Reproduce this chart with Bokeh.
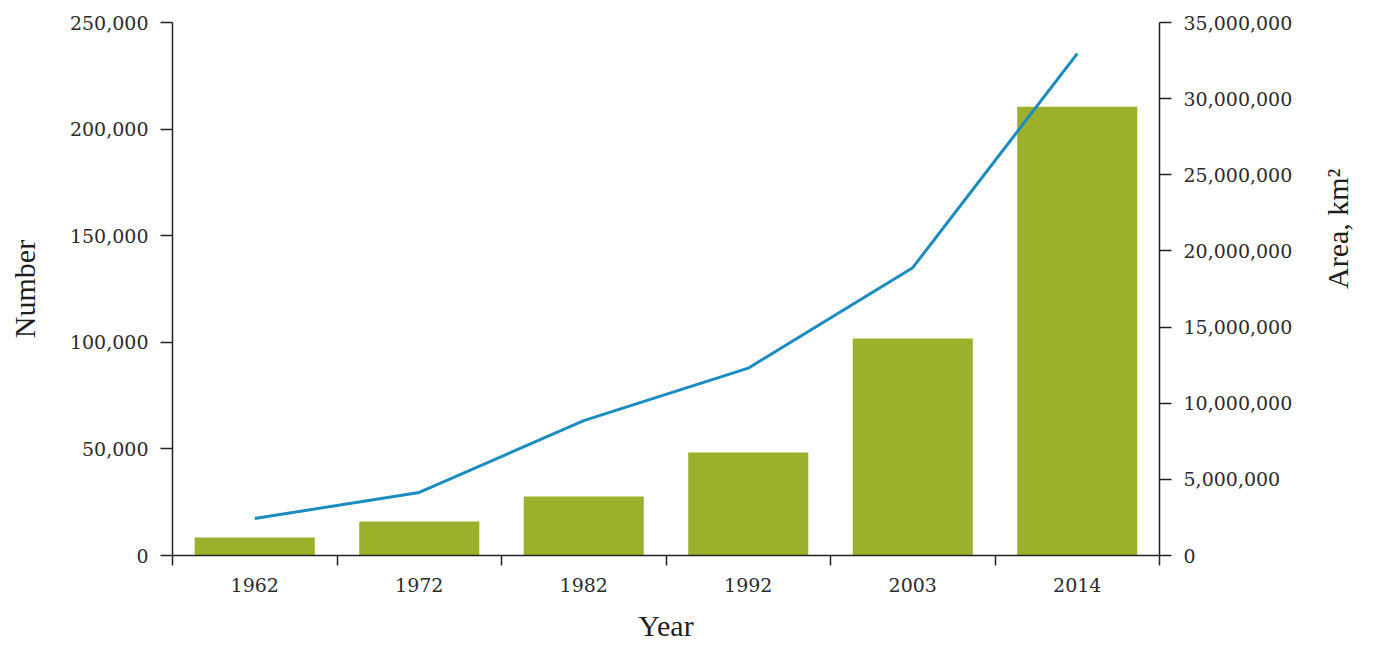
from bokeh.plotting import figure
from bokeh.models import (Range1d, LinearAxis, FixedTicker, NumeralTickFormatter)
from bokeh.embed import file_html
from bokeh.resources import INLINE

years = ["1962", "1972", "1982", "1992", "2003", "2014"]
number = [8400, 16000, 27700, 48300, 101800, 210500]
area_km2 = [2430000, 4140000, 8860000, 12300000, 18900000, 32960000]
left_ticks = [0, 50000, 100000, 150000, 200000, 250000]
right_ticks = [0, 5000000, 10000000, 15000000, 20000000, 25000000, 30000000, 35000000]

xs = [i + 0.5 for i in range(len(years))]
bounds = list(range(len(years) + 1))

BAR = "#9db02c"
LINE = "#1b8cc1"
TXT = "#2b2b2b"
TICKFONT = "DejaVu Serif"
TITLEFONT = "Liberation Serif"

p = figure(width=1373, height=648, output_backend="svg", toolbar_location=None,
           x_range=Range1d(0, len(years)), y_range=Range1d(0, 250000),
           min_border_left=172, min_border_right=213, min_border_top=22, min_border_bottom=93,
           x_axis_location=None, y_axis_location=None)
p.extra_y_ranges = {"area": Range1d(0, 35000000)}
p.grid.visible = False
p.outline_line_color = None
p.background_fill_color = "white"
p.border_fill_color = "white"

p.vbar(x=xs, top=number, width=0.73, color=BAR, line_color=None)
p.line(x=xs, y=area_km2, y_range_name="area", line_color=LINE, line_width=3)

def style(ax):
    ax.axis_line_color = "#222222"
    ax.axis_line_width = 1.5
    ax.major_tick_line_color = "#222222"
    ax.major_tick_line_width = 1.5
    ax.major_tick_in = 0
    ax.major_tick_out = 12
    ax.minor_tick_line_color = None
    ax.major_label_text_font = TICKFONT
    ax.major_label_text_font_size = "19px"
    ax.major_label_text_color = TXT
    ax.major_label_standoff = 12
    ax.axis_label_text_font = TITLEFONT
    ax.axis_label_text_font_size = "30px"
    ax.axis_label_text_font_style = "normal"
    ax.axis_label_text_color = "#1e1e1e"

xa = LinearAxis(ticker=FixedTicker(ticks=xs, minor_ticks=bounds))
style(xa)
xa.major_tick_line_color = None
xa.minor_tick_line_color = "#222222"
xa.minor_tick_line_width = 1.5
xa.minor_tick_in = 0
xa.minor_tick_out = 10
xa.major_label_overrides = {x: y for x, y in zip(xs, years)}
xa.major_label_standoff = 10
xa.axis_label = "Year"
xa.axis_label_standoff = 14
p.add_layout(xa, "below")

ya = LinearAxis(ticker=FixedTicker(ticks=left_ticks), formatter=NumeralTickFormatter(format="0,0"))
style(ya)
ya.axis_label = "Number"
ya.axis_label_standoff = 26
p.add_layout(ya, "left")

ra = LinearAxis(y_range_name="area", ticker=FixedTicker(ticks=right_ticks),
                formatter=NumeralTickFormatter(format="0,0"))
style(ra)
ra.axis_label = "Area, km²"
ra.axis_label_standoff = 42
if "axis_label_orientation" in ra.properties():
    ra.axis_label_orientation = 1.5707963
ra.axis_label_text_align = "center"
ra.axis_label_text_baseline = "middle"
p.add_layout(ra, "right")

open("out.html", "w").write(file_html(p, INLINE))
